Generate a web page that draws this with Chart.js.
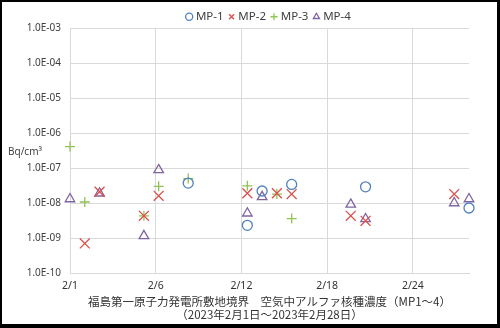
<!DOCTYPE html>
<html>
<head>
<meta charset="utf-8">
<script src="https://cdn.jsdelivr.net/npm/chart.js@4/dist/chart.umd.min.js"></script>
<style>
  html, body { margin: 0; padding: 0; background: #000; }
  #frame { position: absolute; left: 2px; top: 2px; width: 495px; height: 322px; background: #fff; }
  canvas { display: block; }
</style>
</head>
<body>
<div id="frame"><canvas id="c" width="495" height="322"></canvas></div>
<script>
// Sampling days (day of February 2023) and alpha concentrations (Bq/cm3)
const mp1Days = [9, 13, 14, 16, 21, 28];
const mp1Vals = [3.7e-8, 2.3e-9, 2.2e-8, 3.4e-8, 2.9e-8, 7.2e-9];

const mp2Days = [2, 3, 6, 7, 13, 15, 16, 20, 21, 27];
const mp2Vals = [7.0e-10, 2.1e-8, 4.3e-9, 1.6e-8, 1.9e-8, 1.9e-8, 1.8e-8, 4.3e-9, 3.1e-9, 1.8e-8];

const mp3Days = [1, 2, 6, 7, 9, 13, 15, 16];
const mp3Vals = [4.1e-7, 1.07e-8, 4.3e-9, 3.0e-8, 5.0e-8, 3.1e-8, 1.8e-8, 3.6e-9];

const mp4Days = [1, 3, 6, 7, 13, 14, 20, 21, 27, 28];
const mp4Vals = [1.3e-8, 1.9e-8, 1.15e-9, 8.8e-8, 5.1e-9, 1.5e-8, 9.1e-9, 3.5e-9, 1.0e-8, 1.3e-8];

// Axis ticks
const xTickDays = [1, 6.8, 12.6, 18.4, 24.2];
const xTickLabels = ['2/1', '2/6', '2/12', '2/18', '2/24'];
const yTickValues = [1e-10, 1e-9, 1e-8, 1e-7, 1e-6, 1e-5, 1e-4, 1e-3];

const titleLines = [
  '福島第一原子力発電所敷地境界　空気中アルファ核種濃度（MP1～4）',
  '（2023年2月1日～2023年2月28日）'
];
const unitLabel = 'Bq/cm³';

const toPoints = (days, vals) => days.map((d, i) => ({ x: d, y: vals[i] }));

const gridColor = '#D9D9D9';
const textColor = '#404040';
const latinFont = "'Noto Sans', 'Noto Sans CJK JP', sans-serif";

const unitPlugin = {
  id: 'unitLabel',
  afterDraw(chart) {
    const ctx = chart.ctx;
    ctx.save();
    ctx.font = "10px " + latinFont;
    ctx.fillStyle = textColor;
    ctx.textAlign = 'left';
    ctx.textBaseline = 'middle';
    ctx.fillText(unitLabel, 6, 150);
    ctx.restore();
  }
};

new Chart(document.getElementById('c'), {
  type: 'scatter',
  data: {
    datasets: [
      { label: 'MP-1', data: toPoints(mp1Days, mp1Vals), pointStyle: 'circle', pointRadius: 5,
        borderColor: '#4F81BD', backgroundColor: 'rgba(0,0,0,0)', borderWidth: 1.3, clip: false },
      { label: 'MP-2', data: toPoints(mp2Days, mp2Vals), pointStyle: 'crossRot', pointRadius: 7,
        borderColor: '#D94F4C', backgroundColor: '#D94F4C', borderWidth: 1.3, clip: false },
      { label: 'MP-3', data: toPoints(mp3Days, mp3Vals), pointStyle: 'cross', pointRadius: 5,
        borderColor: '#92C353', backgroundColor: '#92C353', borderWidth: 1.3, clip: false },
      { label: 'MP-4', data: toPoints(mp4Days, mp4Vals), pointStyle: 'triangle', pointRadius: 5.5,
        borderColor: '#8064A2', backgroundColor: 'rgba(0,0,0,0)', borderWidth: 1.3, clip: false }
    ]
  },
  options: {
    responsive: false,
    animation: false,
    layout: { padding: { top: 2, left: 0, right: 28, bottom: 2.5 } },
    plugins: {
      legend: {
        position: 'top',
        fullSize: false,
        maxHeight: 24,
        labels: {
          usePointStyle: true,
          boxWidth: 2,
          boxHeight: 5,
          padding: 7,
          color: textColor,
          font: { family: latinFont, size: 11.5 }
        }
      },
      title: {
        display: true,
        position: 'bottom',
        fullSize: false,
        text: titleLines,
        color: '#333333',
        padding: { top: 5.5, bottom: 0 },
        font: { family: "'Noto Sans CJK JP', sans-serif", size: 11.5, weight: 'normal', lineHeight: 1.13 }
      },
      tooltip: { enabled: false }
    },
    scales: {
      x: {
        type: 'linear',
        min: 1,
        max: 28,
        afterBuildTicks: (scale) => { scale.ticks = xTickDays.map(v => ({ value: v })); },
        afterFit: (scale) => { scale.height = 17; },
        ticks: {
          padding: 7,
          color: '#333333',
          maxRotation: 0,
          autoSkip: false,
          font: { family: latinFont, size: 10.5 },
          callback: (v, i) => xTickLabels[i]
        },
        grid: { color: gridColor, drawTicks: false },
        border: { color: gridColor }
      },
      y: {
        type: 'logarithmic',
        min: 1e-10,
        max: 1e-3,
        afterBuildTicks: (scale) => { scale.ticks = yTickValues.map(v => ({ value: v, major: true })); },
        afterFit: (scale) => { scale.width = 68; },
        ticks: {
          padding: 9,
          color: textColor,
          autoSkip: false,
          font: { family: latinFont, size: 10 },
          callback: (v) => {
            const e = Math.round(Math.log10(v));
            const s = String(Math.abs(e)).padStart(2, '0');
            return '1.0E' + (e < 0 ? '-' : '+') + s;
          }
        },
        grid: { color: gridColor, drawTicks: false },
        border: { color: gridColor }
      }
    }
  },
  plugins: [unitPlugin]
});
</script>
</body>
</html>
